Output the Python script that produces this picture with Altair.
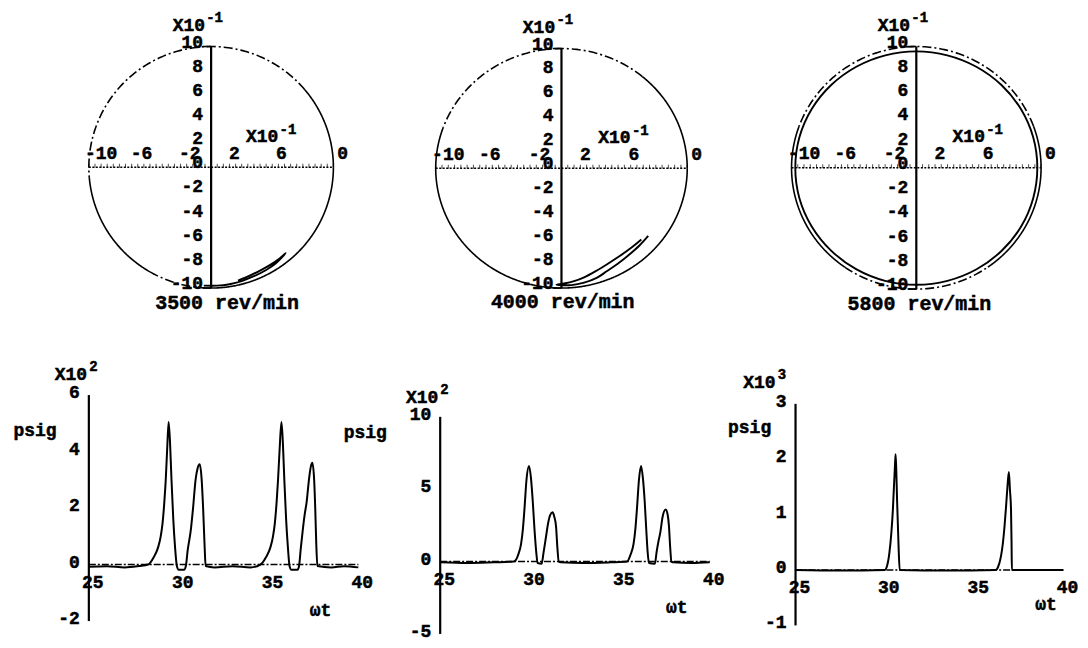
import numpy as np
import pandas as pd
import altair as alt

FONT = "Liberation Mono"
INK = "#000000"

# ---------------- data ----------------
speeds = ["3500 rev/min", "4000 rev/min", "5800 rev/min"]

# orbit plots (units x10^-1)
orbit_yticks = [10, 8, 6, 4, 2, 0, -2, -4, -6, -8, -10]
orbit_xlabels = ["-10", "-6", "-2", "2", "6", "0"]
orbit_xlabel_at = [-9.0, -5.7, -1.75, 1.9, 5.75, 10.75]
orbit_exp = "-1"

orbit1_x = [-0.6, 0.5, 1.5, 2.5, 3.5, 4.5, 5.3, 6.1, 5.6, 4.8, 4.0, 3.2, 2.2]
orbit1_y = [-9.8, -9.8, -9.68, -9.42, -9.02, -8.5, -7.95, -7.1, -7.55, -8.1, -8.55, -8.95, -9.38]

orbit2_x = [6.35, 5.6, 4.6, 3.6, 2.7, 1.8, 1.0, 0.2, -0.4, 0.8, 1.8, 2.8, 3.6, 4.5, 5.4, 6.2, 6.9]
orbit2_y = [-5.95, -6.6, -7.35, -8.03, -8.6, -9.1, -9.42, -9.62, -9.72, -9.75, -9.55, -9.15,
            -8.6, -7.95, -7.2, -6.45, -5.65]

orbit3_angle = list(range(0, 360, 15))
orbit3_radius = [9.7, 9.7, 9.68, 9.65, 9.62, 9.6, 9.6, 9.6, 9.62, 9.65, 9.68, 9.7,
                 9.7, 9.7, 9.68, 9.66, 9.65, 9.65, 9.65, 9.65, 9.66, 9.68, 9.7, 9.7]

# pressure plots
wt_ticks = [25, 30, 35, 40]
p_yticks = [[6, 4, 2, 0, -2], [10, 5, 0, -5], [3, 2, 1, 0, -1]]
p_exp = ["2", "2", "3"]

p3500_x = [25.0, 26.0, 27.0, 27.8, 28.3, 28.6, 28.85, 29.0, 29.1, 29.2, 29.28, 29.36, 29.44,
           29.52, 29.6, 29.7, 29.8, 29.9, 30.0, 30.3, 30.4, 30.5, 30.67, 30.8, 30.94, 31.05,
           31.17, 31.28, 31.36, 31.44, 31.5, 32.0, 33.0, 34.0, 34.55, 34.85, 35.1, 35.25,
           35.35, 35.45, 35.53, 35.62, 35.72, 35.8, 35.88, 35.98, 36.08, 36.17, 36.27, 36.62,
           36.7, 36.8, 36.92, 37.02, 37.12, 37.25, 37.35, 37.44, 37.54, 37.6, 37.66, 37.72,
           38.5, 39.2, 40.0]
p3500_y = [-0.08, -0.06, -0.1, -0.05, 0.0, 0.25, 0.6, 1.0, 1.45, 2.2, 3.0, 4.1, 5.05,
           4.3, 3.0, 1.6, 0.6, -0.05, -0.18, -0.18, -0.05, 0.5, 1.2, 2.0, 3.0, 3.4,
           3.55, 3.0, 2.0, 0.7, -0.05, -0.1, -0.06, -0.1, 0.0, 0.25, 0.6, 1.0,
           1.45, 2.2, 3.0, 4.1, 5.05, 4.3, 3.0, 1.6, 0.6, -0.05, -0.18, -0.18,
           -0.05, 0.6, 1.3, 1.8, 2.2, 3.0, 3.45, 3.6, 3.0, 2.0, 0.7, -0.05,
           -0.1, -0.06, -0.1]

p4000_x = [25.0, 26.5, 28.0, 29.1, 29.35, 29.5, 29.6, 29.7, 29.8, 29.94, 30.05, 30.15, 30.25,
           30.35, 30.42, 30.65, 30.75, 30.9, 31.0, 31.12, 31.25, 31.35, 31.45, 31.52, 31.6,
           31.7, 33.0, 34.5, 35.4, 35.6, 35.76, 35.86, 35.96, 36.06, 36.18, 36.28, 36.38,
           36.47, 36.55, 36.62, 36.95, 37.05, 37.15, 37.25, 37.38, 37.55, 37.65, 37.73, 37.8,
           37.87, 37.95, 39.0, 40.0]
p4000_y = [-0.05, -0.1, -0.05, 0.0, 0.5, 1.2, 2.2, 3.8, 5.6, 6.6, 5.8, 4.2, 2.2,
           0.6, -0.1, -0.15, 0.6, 1.8, 2.6, 3.2, 3.4, 3.1, 2.4, 1.0, 0.0,
           -0.05, -0.1, -0.05, 0.0, 0.5, 1.2, 2.2, 3.8, 5.6, 6.6, 5.8, 4.2,
           2.2, 0.6, -0.1, -0.15, 0.7, 1.4, 2.0, 3.1, 3.6, 3.3, 2.5, 1.0,
           0.0, -0.05, -0.1, -0.05]

p5800_x = [25.0, 27.5, 30.0, 30.1, 30.25, 30.37, 30.45, 30.5, 30.56, 30.6, 30.64, 30.68, 30.72,
           30.77, 30.83, 33.5, 36.2, 36.33, 36.5, 36.6, 36.7, 36.78, 36.86, 36.94, 37.0,
           37.06, 37.09, 37.11, 38.5, 40.0]
p5800_y = [0.0, -0.01, 0.0, 0.05, 0.3, 0.7, 1.1, 1.45, 1.85, 2.09, 1.8, 1.3, 0.9,
           0.4, 0.0, -0.01, 0.0, 0.05, 0.25, 0.47, 0.8, 1.13, 1.5, 1.77, 1.45,
           1.1, 0.5, 0.0, 0.0, 0.0]

# ---------------- layout (pixels) ----------------
COL_W = [358, 358, 356]
TOP_H, BOT_H = 310, 322
top_c = [(202.5, 158), (195.5, 159), (193, 158.5)]
top_s = [(12.25, 12.1), (12.6, 12.0), (12.5, 12.15)]
caption_x = [1.3, 0.1, 0.25]
dashed_arcs = [[(40, 185), (240, 265)], [(50, 160)], [(20, 160), (235, 305)]]

bot_x0 = [80, 74, 72]
bot_sx = [18, 18, 17.9]
bot_y0 = [246, 243, 251.5]
bot_sy = [28.3, 14.5, 55.5]
psig_at = [(22.0, 4.73), (20.83, 8.9), (22.43, 2.57)]
x10_at = [(24.9, 6.71, 7.0), (24.89, 11.3, 11.86), (23.88, 3.38, 3.52)]
wt_at = [(37.9, -1.63), (38.17, -3.24), (39.02, -0.64)]


def txt(df, X, Y, size=18, **kw):
    return alt.Chart(df).mark_text(font=FONT, fontWeight="bold", color=INK, stroke=INK,
                                   strokeWidth=0.5, fontSize=size, **kw).encode(
        x=X, y=Y, text="t:N")


def circle_df(dashed):
    rows = []
    seg, cur = 0, None
    for a in range(0, 361):
        st = "dash" if any(s <= a < e for s, e in dashed) else "solid"
        if cur is None:
            cur = st
        elif st != cur:
            rows.append((seg, cur, a))
            seg += 1
            cur = st
        rows.append((seg, cur, a))
    df = pd.DataFrame(rows, columns=["seg", "style", "i"])
    rad = np.deg2rad(df["i"])
    df["x"] = 10 * np.cos(rad)
    df["y"] = 10 * np.sin(rad)
    return df


def orbit_panel(k):
    w = COL_W[k]
    cx, cy = top_c[k]
    sx, sy = top_s[k]
    X = alt.X("x:Q", scale=alt.Scale(domain=[-cx / sx, (w - cx) / sx], nice=False, zero=False), axis=None)
    Y = alt.Y("y:Q", scale=alt.Scale(domain=[-(TOP_H - cy) / sy, cy / sy], nice=False, zero=False), axis=None)

    circ = alt.Chart(circle_df(dashed_arcs[k])).mark_line(color=INK, strokeWidth=1.6).encode(
        x=X, y=Y, detail="seg:N", order="i:Q",
        strokeDash=alt.StrokeDash("style:N", scale=alt.Scale(domain=["solid", "dash"],
                                                             range=[[1, 0], [9, 3, 2, 3]]), legend=None))
    vax = alt.Chart(pd.DataFrame({"x": [0], "y": [-10], "x2": [0], "y2": [10]})).mark_rule(
        color=INK, strokeWidth=2.2).encode(x=X, y=Y, x2="x2:Q", y2="y2:Q")
    vticks = alt.Chart(pd.DataFrame({"x": [-0.7, -0.7], "x2": [0, 0], "y": [10, -10]})).mark_rule(
        color=INK, strokeWidth=1.6).encode(x=X, x2="x2:Q", y=Y)
    hax = alt.Chart(pd.DataFrame({"x": [-10], "x2": [10], "y": [0]})).mark_rule(
        color=INK, strokeWidth=1.5, strokeDash=[2, 1.5]).encode(x=X, x2="x2:Q", y=Y)
    hticks = alt.Chart(pd.DataFrame({"x": np.arange(-10, 10.01, 0.5), "y": 0.12})).mark_tick(
        orient="vertical", size=4, thickness=1, color=INK).encode(x=X, y=Y)

    ylab = txt(pd.DataFrame({"x": 0, "y": orbit_yticks, "t": [str(v) for v in orbit_yticks]}),
               X, Y, align="right", baseline="middle", dx=-8, dy=-4)
    xlab = txt(pd.DataFrame({"x": orbit_xlabel_at, "y": 1.1, "t": orbit_xlabels}),
               X, Y, align="center", baseline="middle")
    mult = txt(pd.DataFrame({"x": [-0.5, 5.5], "y": [11.7, 2.5], "t": ["X10", "X10"]}),
               X, Y, align="right", baseline="middle")
    expo = txt(pd.DataFrame({"x": [-0.4, 5.6], "y": [12.35, 3.1], "t": [orbit_exp, orbit_exp]}),
               X, Y, size=14, align="left", baseline="middle")
    cap = txt(pd.DataFrame({"x": [caption_x[k]], "y": [-11.2], "t": [speeds[k]]}),
              X, Y, size=20, align="center", baseline="middle")

    layers = [circ, hax, hticks, vax, vticks]
    if k == 0:
        tr = pd.DataFrame({"x": orbit1_x, "y": orbit1_y, "i": range(len(orbit1_x))})
        layers.append(alt.Chart(tr).mark_line(color=INK, strokeWidth=1.9, interpolate="catmull-rom")
                      .encode(x=X, y=Y, order="i:Q"))
    elif k == 1:
        tr = pd.DataFrame({"x": orbit2_x, "y": orbit2_y, "i": range(len(orbit2_x))})
        layers.append(alt.Chart(tr).mark_line(color=INK, strokeWidth=1.9, interpolate="catmull-rom")
                      .encode(x=X, y=Y, order="i:Q"))
    else:
        ang = np.deg2rad(orbit3_angle)
        r = np.array(orbit3_radius)
        tr = pd.DataFrame({"x": r * np.cos(ang), "y": r * np.sin(ang), "i": range(len(r))})
        layers.append(alt.Chart(tr).mark_line(color=INK, strokeWidth=1.9, interpolate="cardinal-closed")
                      .encode(x=X, y=Y, order="i:Q"))
    layers += [ylab, xlab, mult, expo, cap]
    return alt.layer(*layers).properties(width=w, height=TOP_H)


def pressure_panel(k, cx_, cy_):
    w = COL_W[k]
    x0, sx, y0, sy = bot_x0[k], bot_sx[k], bot_y0[k], bot_sy[k]
    X = alt.X("x:Q", scale=alt.Scale(domain=[25 - x0 / sx, 25 + (w - x0) / sx], nice=False, zero=False), axis=None)
    Y = alt.Y("y:Q", scale=alt.Scale(domain=[-(BOT_H - y0) / sy, y0 / sy], nice=False, zero=False), axis=None)
    yt = p_yticks[k]

    vax = alt.Chart(pd.DataFrame({"x": [25], "y": [min(yt)], "y2": [max(yt)]})).mark_rule(
        color=INK, strokeWidth=2.2).encode(x=X, y=Y, y2="y2:Q")
    hax = alt.Chart(pd.DataFrame({"x": [25], "x2": [40], "y": [0]})).mark_rule(
        color=INK, strokeWidth=1.5, strokeDash=[7, 2, 2, 2]).encode(x=X, x2="x2:Q", y=Y)
    curve = alt.Chart(pd.DataFrame({"x": cx_, "y": cy_})).mark_line(
        color=INK, strokeWidth=2.0, interpolate="monotone").encode(x=X, y=Y)
    ylab = txt(pd.DataFrame({"x": 25, "y": yt, "t": [str(v) for v in yt]}),
               X, Y, align="right", baseline="middle", dx=-9, dy=-2)
    xlab = txt(pd.DataFrame({"x": wt_ticks, "y": 0, "t": [str(v) for v in wt_ticks]}),
               X, Y, align="center", baseline="middle", dx=4, dy=18)
    psig = txt(pd.DataFrame({"x": [psig_at[k][0]], "y": [psig_at[k][1]], "t": ["psig"]}),
               X, Y, align="center", baseline="middle")
    mult = txt(pd.DataFrame({"x": [x10_at[k][0]], "y": [x10_at[k][1]], "t": ["X10"]}),
               X, Y, align="right", baseline="middle")
    expo = txt(pd.DataFrame({"x": [x10_at[k][0] + 0.12], "y": [x10_at[k][2]], "t": [p_exp[k]]}),
               X, Y, size=14, align="left", baseline="middle")
    wt = txt(pd.DataFrame({"x": [wt_at[k][0]], "y": [wt_at[k][1]], "t": ["ωt"]}),
             X, Y, align="center", baseline="middle")
    return alt.layer(hax, vax, curve, ylab, xlab, psig, mult, expo, wt).properties(width=w, height=BOT_H)


panels = [orbit_panel(0), orbit_panel(1), orbit_panel(2),
          pressure_panel(0, p3500_x, p3500_y),
          pressure_panel(1, p4000_x, p4000_y),
          pressure_panel(2, p5800_x, p5800_y)]

chart = alt.concat(*panels, columns=3, spacing=0, bounds="flush", align="each").properties(
    padding=0, background="white").configure_view(stroke="transparent")

chart.save("out.html", embed_options={"renderer": "svg", "actions": False})
